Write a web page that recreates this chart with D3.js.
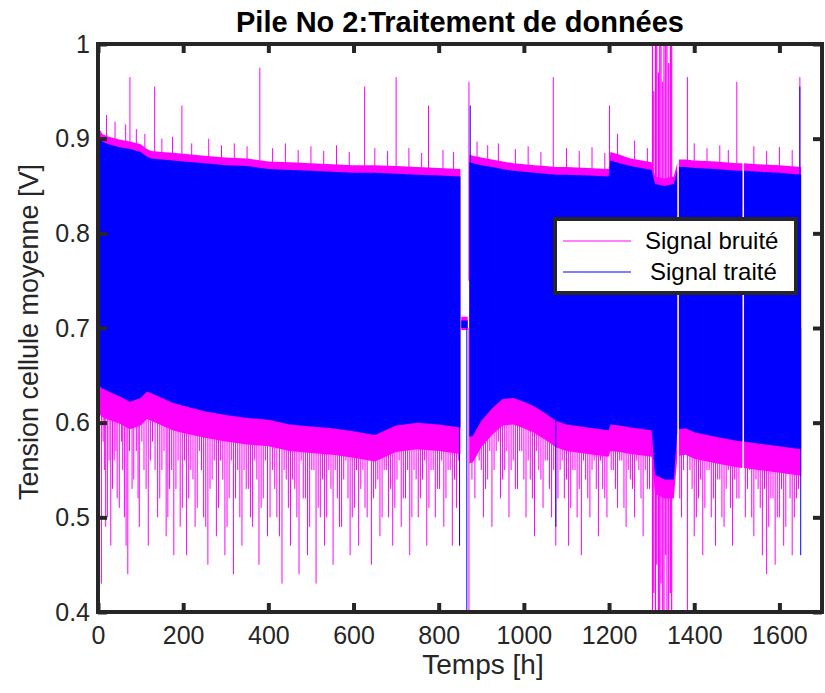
<!DOCTYPE html>
<html><head><meta charset="utf-8">
<script src="https://cdn.jsdelivr.net/npm/d3@7"></script>
<style>
body{margin:0;background:#fff;}
svg{display:block;font-family:"Liberation Sans",Arial,Helvetica,sans-serif;}
</style></head>
<body><svg id="chart" width="825" height="693"></svg>
<script>
// ---- data ----
const time     = [0,10,25,50,75,100,115,125,150,175,200,250,300,350,400,450,500,550,600,650,700,750,800,851,852,853,868,870,872,880,900,925,950,975,1000,1025,1050,1075,1100,1150,1199,1203,1225,1250,1300,1308,1330,1352,1360,1362,1364,1380,1400,1450,1500,1513,1515,1517,1550,1600,1651];
const blueHigh = [0.905,0.897,0.894,0.891,0.889,0.886,0.881,0.879,0.878,0.877,0.876,0.874,0.872,0.871,0.868,0.867,0.866,0.865,0.864,0.864,0.863,0.862,0.861,0.860,null,0.708,0.708,null,0.875,0.874,0.872,0.870,0.868,0.866,0.865,0.864,0.863,0.862,0.862,0.861,0.860,0.877,0.874,0.871,0.867,0.852,0.850,0.852,0.866,null,0.870,0.870,0.869,0.868,0.866,0.866,null,0.866,0.865,0.864,0.862];
const blueLow  = [0.640,0.636,0.633,0.628,0.622,0.626,0.633,0.631,0.626,0.621,0.618,0.612,0.608,0.605,0.603,0.598,0.596,0.594,0.591,0.587,0.597,0.600,0.598,0.595,null,0.700,0.700,null,0.585,0.586,0.602,0.615,0.625,0.626,0.622,0.617,0.610,0.602,0.598,0.595,0.592,0.598,0.597,0.595,0.592,0.545,0.540,0.540,0.590,null,0.593,0.594,0.590,0.585,0.581,0.580,null,0.580,0.578,0.575,0.572];
const pinkHigh = [0.913,0.905,0.902,0.899,0.897,0.894,0.889,0.887,0.886,0.885,0.884,0.882,0.880,0.879,0.876,0.875,0.874,0.873,0.872,0.872,0.871,0.870,0.869,0.868,null,0.712,0.712,null,0.883,0.882,0.880,0.878,0.876,0.874,0.873,0.872,0.871,0.870,0.870,0.869,0.868,0.886,0.883,0.879,0.875,0.860,0.858,0.860,0.874,null,0.878,0.878,0.877,0.876,0.874,0.874,null,0.874,0.873,0.872,0.870];
const pinkLow  = [0.610,0.606,0.603,0.599,0.593,0.597,0.604,0.602,0.597,0.592,0.589,0.584,0.580,0.577,0.575,0.570,0.568,0.566,0.563,0.559,0.569,0.572,0.570,0.567,null,0.698,0.698,null,0.557,0.558,0.574,0.587,0.597,0.598,0.594,0.589,0.582,0.574,0.570,0.567,0.564,0.570,0.569,0.567,0.564,0.525,0.520,0.520,0.562,null,0.565,0.566,0.562,0.557,0.553,0.552,null,0.552,0.550,0.547,0.544];

// noisy signal: tall upward spikes
const spikeUpT = [1,75,133,197,380,626,700,776,871,1069,1201,1384,1500,1648];
const spikeUpV = [1.0,0.965,0.955,0.935,0.975,0.955,0.965,0.935,0.96,0.965,0.935,0.965,0.96,0.965];
// noisy signal: short upward spikes
const smallUpT = [20,40,65,90,110,150,175,220,260,290,320,350,410,440,470,500,530,560,590,650,680,730,760,810,835,890,915,940,980,1010,1040,1100,1130,1160,1190,1220,1260,1290,1400,1430,1460,1480,1540,1570,1600,1630];
const smallUpV = [0.925,0.918,0.915,0.91,0.905,0.90,0.902,0.895,0.90,0.893,0.895,0.892,0.89,0.895,0.888,0.892,0.887,0.893,0.886,0.89,0.887,0.89,0.885,0.888,0.886,0.897,0.893,0.895,0.889,0.892,0.886,0.89,0.887,0.891,0.885,0.905,0.898,0.89,0.895,0.89,0.893,0.888,0.892,0.887,0.891,0.888];
// noisy signal: deep downward spikes
const spikeDownT = [1,8,15,22,30,38,45,55,62,70,80,90,97,108,118,128,140,150,160,168,178,188,198,208,218,228,238,248,258,268,278,288,298,308,318,328,338,348,358,368,378,388,398,410,420,432,442,452,462,472,482,492,502,512,522,532,542,552,562,572,582,592,602,612,622,632,642,652,662,672,682,692,702,712,722,732,742,752,762,772,782,792,802,812,822,832,842,871,885,895,905,915,925,935,945,955,965,975,985,995,1005,1015,1025,1035,1045,1055,1065,1075,1085,1095,1105,1115,1125,1135,1145,1155,1165,1175,1185,1195,1210,1220,1230,1240,1250,1260,1270,1280,1290,1370,1384,1390,1400,1410,1420,1430,1440,1450,1460,1470,1480,1490,1500,1520,1530,1540,1550,1560,1570,1580,1590,1600,1610,1620,1630,1640];
const spikeDownV = [0.40,0.43,0.55,0.50,0.47,0.56,0.52,0.58,0.50,0.44,0.53,0.57,0.49,0.55,0.47,0.58,0.50,0.55,0.48,0.53,0.46,0.56,0.51,0.46,0.55,0.49,0.57,0.50,0.45,0.54,0.48,0.56,0.46,0.52,0.44,0.55,0.47,0.53,0.50,0.56,0.45,0.52,0.48,0.55,0.50,0.43,0.54,0.47,0.53,0.44,0.52,0.46,0.55,0.43,0.50,0.47,0.55,0.45,0.52,0.49,0.56,0.46,0.51,0.47,0.55,0.50,0.45,0.53,0.48,0.55,0.50,0.47,0.54,0.49,0.52,0.46,0.55,0.50,0.54,0.47,0.55,0.50,0.53,0.49,0.55,0.47,0.51,0.40,0.52,0.56,0.50,0.54,0.49,0.57,0.52,0.55,0.50,0.56,0.53,0.57,0.50,0.54,0.48,0.55,0.51,0.56,0.50,0.47,0.55,0.52,0.47,0.55,0.50,0.46,0.54,0.50,0.56,0.48,0.53,0.50,0.55,0.51,0.56,0.49,0.54,0.50,0.55,0.48,0.53,0.50,0.40,0.55,0.48,0.52,0.46,0.55,0.50,0.47,0.54,0.49,0.55,0.47,0.52,0.50,0.55,0.48,0.53,0.46,0.44,0.52,0.45,0.50,0.47,0.55,0.46,0.52];
// noisy signal: shorter downward spikes
const shortDownT = [3,12,18,26,34,42,50,58,66,74,84,94,103,113,123,134,145,155,164,173,183,193,203,213,223,233,243,253,263,273,283,293,303,313,323,333,343,353,363,373,383,393,404,415,426,437,447,457,467,477,487,497,507,517,527,537,547,557,567,577,587,597,607,617,627,637,647,657,667,677,687,697,707,717,727,737,747,757,767,777,787,797,807,817,827,837,847,878,890,900,910,920,930,940,950,960,970,980,990,1000,1010,1020,1030,1040,1050,1060,1070,1080,1090,1100,1110,1120,1130,1140,1150,1160,1170,1180,1190,1205,1215,1225,1235,1245,1255,1265,1275,1285,1295,1366,1375,1395,1405,1415,1425,1435,1445,1455,1465,1475,1485,1495,1505,1525,1535,1545,1555,1565,1575,1585,1595,1605,1615,1625,1635,1645];
const shortDownV = [0.52,0.58,0.49,0.56,0.53,0.57,0.51,0.55,0.47,0.57,0.54,0.52,0.58,0.53,0.56,0.55,0.52,0.57,0.50,0.55,0.53,0.49,0.56,0.52,0.54,0.51,0.55,0.49,0.53,0.56,0.51,0.54,0.49,0.56,0.52,0.50,0.55,0.53,0.49,0.54,0.51,0.56,0.50,0.53,0.48,0.55,0.51,0.54,0.50,0.56,0.52,0.49,0.55,0.51,0.54,0.50,0.53,0.55,0.49,0.54,0.52,0.50,0.55,0.53,0.51,0.56,0.52,0.54,0.50,0.55,0.53,0.51,0.56,0.52,0.55,0.50,0.54,0.52,0.56,0.51,0.55,0.53,0.56,0.52,0.55,0.54,0.56,0.54,0.57,0.55,0.53,0.57,0.55,0.58,0.54,0.57,0.55,0.53,0.57,0.54,0.56,0.52,0.57,0.54,0.56,0.53,0.55,0.52,0.56,0.54,0.51,0.55,0.53,0.56,0.52,0.55,0.53,0.56,0.52,0.55,0.53,0.56,0.51,0.55,0.53,0.56,0.52,0.55,0.53,0.52,0.55,0.53,0.50,0.54,0.51,0.55,0.52,0.54,0.50,0.53,0.51,0.54,0.52,0.53,0.50,0.54,0.51,0.53,0.49,0.52,0.50,0.53,0.49,0.52,0.50,0.53];
// noisy signal: erratic zone around 1300-1350 h
const chaosT  = [1302,1305,1309,1312,1316,1319,1322,1326,1329,1333,1336,1340,1344,1347];
const chaosHi = [1.0,0.95,1.0,1.0,0.97,1.0,1.0,0.96,1.0,1.0,1.0,0.98,1.0,1.0];
const chaosLo = [0.40,0.42,0.40,0.45,0.40,0.40,0.43,0.40,0.40,0.46,0.40,0.40,0.42,0.40];
// processed signal: isolated excursions
const blueSpikeT = [849,866,874,1075,1648,1650];
const blueSpikeV = [0.47,0.40,0.935,0.49,0.955,0.46];

const xTicks = [0,200,400,600,800,1000,1200,1400,1600];
const yTicks = [0.4,0.5,0.6,0.7,0.8,0.9,1];

const PINK = "#ff00ff", BLUE = "#0000ff", AX = "#262626";

// ---- chart ----
const svg = d3.select("#chart");
const L = 98, R = 822, T = 44, B = 612;
const x = d3.scaleLinear().domain([0,1700]).range([L,R]);
const y = d3.scaleLinear().domain([0.4,1]).range([B,T]);

svg.append("defs").append("clipPath").attr("id","clip")
  .append("rect").attr("x",L).attr("y",T).attr("width",R-L).attr("height",B-T);

const g = svg.append("g").attr("clip-path","url(#clip)");

const rows = time.map((t,i)=>({t, bh:blueHigh[i], bl:blueLow[i], ph:pinkHigh[i], pl:pinkLow[i]}));

// noisy signal band
g.append("path").datum(rows)
  .attr("d", d3.area().defined(d=>d.ph!=null).x(d=>x(d.t)).y0(d=>y(d.pl)).y1(d=>y(d.ph)))
  .attr("fill",PINK);

function spikes(ts, vs, base, w){
  g.append("g").selectAll("line").data(ts).join("line")
    .attr("x1",t=>x(t)).attr("x2",t=>x(t))
    .attr("y1",(t,i)=>y(vs[i])).attr("y2",y(base))
    .attr("stroke",PINK).attr("stroke-width",w);
}
spikes(spikeUpT, spikeUpV, 0.75, 1);
spikes(smallUpT, smallUpV, 0.75, 1);
spikes(spikeDownT, spikeDownV, 0.7, 1);
spikes(shortDownT, shortDownV, 0.7, 1);
g.append("g").selectAll("line").data(chaosT).join("line")
  .attr("x1",t=>x(t)).attr("x2",t=>x(t))
  .attr("y1",(t,i)=>y(chaosLo[i])).attr("y2",(t,i)=>y(chaosHi[i]))
  .attr("stroke",PINK).attr("stroke-width",1.2);

// processed signal band
g.append("path").datum(rows)
  .attr("d", d3.area().defined(d=>d.bh!=null).x(d=>x(d.t)).y0(d=>y(d.bl)).y1(d=>y(d.bh)))
  .attr("fill",BLUE);
g.append("g").selectAll("line").data(blueSpikeT).join("line")
  .attr("x1",t=>x(t)).attr("x2",t=>x(t))
  .attr("y1",(t,i)=>y(blueSpikeV[i])).attr("y2",y(0.7))
  .attr("stroke",BLUE).attr("stroke-width",1);

// axes
function styleAxis(sel){
  sel.select(".domain").remove();
  sel.selectAll(".tick line").attr("stroke",AX).attr("stroke-width",4);
  sel.selectAll(".tick text").attr("fill","#262626").style("font-size","25px");
}
svg.append("g").attr("transform",`translate(0,${B})`)
  .call(d3.axisBottom(x).tickValues(xTicks).tickSize(-9).tickPadding(14).tickFormat(d3.format("d")))
  .call(styleAxis);
svg.append("g").attr("transform",`translate(0,${T})`)
  .call(d3.axisTop(x).tickValues(xTicks).tickSize(-9).tickFormat(""))
  .call(styleAxis);
svg.append("g").attr("transform",`translate(${L},0)`)
  .call(d3.axisLeft(y).tickValues(yTicks).tickSize(-9).tickPadding(8).tickFormat(d=>d===1?"1":d3.format(".1f")(d)))
  .call(styleAxis);
svg.append("g").attr("transform",`translate(${R},0)`)
  .call(d3.axisRight(y).tickValues(yTicks).tickSize(-9).tickFormat(""))
  .call(styleAxis);

svg.append("rect").attr("x",L).attr("y",T).attr("width",R-L).attr("height",B-T)
  .attr("fill","none").attr("stroke",AX).attr("stroke-width",4);

// labels
svg.append("text").attr("x",(L+R)/2).attr("y",32).attr("text-anchor","middle")
  .style("font-size","29px").style("font-weight","bold").attr("fill","#000")
  .text("Pile No 2:Traitement de données");
svg.append("text").attr("x",483).attr("y",674).attr("text-anchor","middle")
  .style("font-size","28px").attr("fill","#262626").text("Temps [h]");
svg.append("text").attr("transform",`translate(38,332) rotate(-90)`).attr("text-anchor","middle")
  .style("font-size","27px").attr("fill","#262626").text("Tension cellule moyenne [V]");

// legend
const lg = svg.append("g");
lg.append("rect").attr("x",555).attr("y",219).attr("width",241).attr("height",74)
  .attr("fill","#fff").attr("stroke",AX).attr("stroke-width",4);
const items = [{name:"Signal bruité", c:PINK},{name:"Signal traité", c:BLUE}];
items.forEach((it,i)=>{
  const yy = 241 + i*31;
  lg.append("line").attr("x1",563).attr("x2",631).attr("y1",yy).attr("y2",yy).attr("stroke",it.c).attr("stroke-width",1);
  lg.append("text").attr("x",i===0?645:650).attr("y",yy+8).style("font-size","24px").attr("fill","#000").text(it.name);
});
</script>
</body></html>
